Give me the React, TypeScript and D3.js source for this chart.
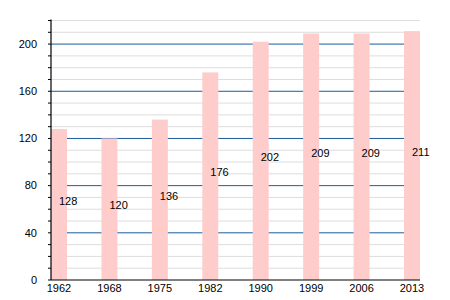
import React from "react";
import * as d3 from "d3";

const years = ["1962", "1968", "1975", "1982", "1990", "1999", "2006", "2013"];
const values = [128, 120, 136, 176, 202, 209, 209, 211];
const majorTicks = [0, 40, 80, 120, 160, 200];
const minorTicks = d3.range(0, 221, 10);

export default function App() {
  const W = 450, H = 300;
  const left = 51, right = 420, top = 20.5, bottom = 280;
  const x = d3.scaleBand<string>().domain(years).range([left, right]).paddingInner(0.683).paddingOuter(0);
  const y = d3.scaleLinear().domain([0, 220]).range([bottom, top]);
  const font = "'Liberation Sans', Arial, sans-serif";
  return (
    <svg width={W} height={H} style={{ position: "absolute", left: 0, top: 0, background: "#fff" }} fontFamily={font}>
      {minorTicks.filter((t) => !majorTicks.includes(t)).map((t) => (
        <line key={"g" + t} x1={left} x2={right} y1={y(t)} y2={y(t)} stroke="#dddddd" strokeWidth={1} />
      ))}
      {majorTicks.filter((t) => t > 0).map((t) => (
        <line key={"m" + t} x1={left} x2={right} y1={y(t)} y2={y(t)} stroke="#1a5d9c" strokeWidth={1} />
      ))}
      {years.map((yr, i) => (
        <rect key={yr} x={x(yr)} y={y(values[i])} width={x.bandwidth()} height={bottom - y(values[i])} fill="#ffcccc" />
      ))}
      {years.map((yr, i) => (
        <text key={"v" + yr} x={(x(yr) as number) + x.bandwidth() / 2} y={(y(values[i]) + bottom) / 2} fontSize={11} fill="#000">
          {values[i]}
        </text>
      ))}
      <line x1={left} x2={left} y1={top - 1} y2={bottom} stroke="#000" strokeWidth={1.2} />
      <line x1={left} x2={right} y1={bottom} y2={bottom} stroke="#000" strokeWidth={1.2} />
      {minorTicks.map((t) => (
        <line key={"t" + t} x1={left - 3} x2={left} y1={y(t)} y2={y(t)} stroke="#000" strokeWidth={1} />
      ))}
      {majorTicks.map((t) => (
        <text key={"l" + t} x={37} y={y(t)} dy="0.35em" textAnchor="end" fontSize={11} fill="#000">
          {t}
        </text>
      ))}
      {years.map((yr) => (
        <text key={"x" + yr} x={(x(yr) as number) + x.bandwidth() / 2} y={292} textAnchor="middle" fontSize={11} fill="#000">
          {yr}
        </text>
      ))}
    </svg>
  );
}
